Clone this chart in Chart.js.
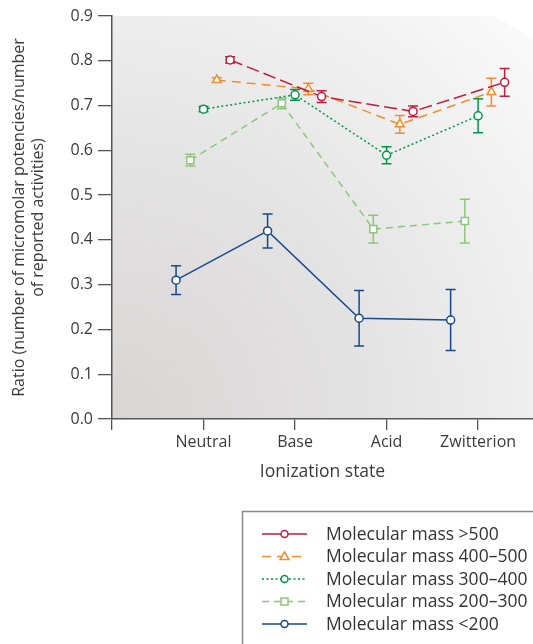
<!DOCTYPE html>
<html lang="en">
<head>
  <meta charset="UTF-8" />
  <title>Ratio by ionization state</title>
  <script src="https://cdn.jsdelivr.net/npm/chart.js"></script>
  <style>
    * { margin: 0; padding: 0; box-sizing: border-box; }
    body { background: #fff; width: 533px; height: 644px; overflow: hidden; }
    #wrap { position: relative; width: 533px; height: 644px; }
  </style>
</head>
<body>
  <div id="wrap"><canvas id="chart"></canvas></div>

  <script>
    const categories = ['Neutral', 'Base', 'Acid', 'Zwitterion'];
    const yTicks = [0, 0.1, 0.2, 0.3, 0.4, 0.5, 0.6, 0.7, 0.8, 0.9];

    const seriesNames = [
      'Molecular mass >500',
      'Molecular mass 400\u2013500',
      'Molecular mass 300\u2013400',
      'Molecular mass 200\u2013300',
      'Molecular mass <200'
    ];
    const mass500 = [0.802, 0.720, 0.687, 0.752];
    const err500 = [0.007, 0.013, 0.012, 0.031];
    const mass400 = [0.757, 0.737, 0.658, 0.730];
    const err400 = [0.005, 0.013, 0.020, 0.031];
    const mass300 = [0.692, 0.724, 0.589, 0.677];
    const err300 = [0.006, 0.012, 0.019, 0.038];
    const mass200 = [0.578, 0.705, 0.424, 0.442];
    const err200 = [0.013, 0.012, 0.031, 0.049];
    const massLow = [0.310, 0.420, 0.225, 0.221];
    const errLow = [0.032, 0.038, 0.062, 0.068];

    // horizontal dodge of each series inside a category
    const dodge = [0.29, 0.145, 0, -0.145, -0.3];
    const colors = ['#c41a3b', '#f08d2e', '#00954a', '#8cc67c', '#17498c'];
    const dashes = [[13, 5], [9, 6], [2, 2.5], [7, 5], []];
    const legendDashes = [[], [9, 6], [2, 2.5], [7, 5], []];
    const shapes = ['circle', 'triangle', 'circle', 'rect', 'circle'];
    const radii = [4, 5, 4, 5, 4];

    const values = [mass500, mass400, mass300, mass200, massLow];
    const errors = [err500, err400, err300, err200, errLow];

    const datasets = values.map((vals, s) => ({
      label: seriesNames[s],
      data: vals.map((v, i) => ({ x: i + 1 + dodge[s], y: v, err: errors[s][i] })),
      borderColor: colors[s],
      borderWidth: 1.5,
      borderDash: dashes[s],
      pointStyle: shapes[s],
      pointRadius: radii[s],
      pointBorderWidth: 1.5,
      pointBackgroundColor: '#fff',
      pointBorderColor: colors[s],
      fill: false,
      tension: 0
    }));

    const bgPlugin = {
      id: 'bg',
      beforeDraw(chart) {
        const { ctx, chartArea: a } = chart;
        const w = a.right - a.left, h = a.bottom - a.top;
        const r = Math.hypot(w, h);
        const g = ctx.createRadialGradient(a.left, a.bottom, 0, a.left, a.bottom, r);
        g.addColorStop(0, '#d8d5d4');
        g.addColorStop(0.45, '#e4e3e3');
        g.addColorStop(0.8, '#f2f2f2');
        g.addColorStop(1, '#fbfbfb');
        ctx.save();
        ctx.fillStyle = g;
        ctx.beginPath();
        ctx.moveTo(a.left, a.top);
        ctx.lineTo(a.right - 38, a.top);
        ctx.lineTo(a.right, a.top + 23);
        ctx.lineTo(a.right, a.bottom);
        ctx.lineTo(a.left, a.bottom);
        ctx.closePath();
        ctx.fill();
        ctx.restore();
      }
    };

    const errorBars = {
      id: 'errorBars',
      beforeDatasetsDraw(chart) {
        const { ctx } = chart;
        const y = chart.scales.y;
        chart.data.datasets.forEach((ds, s) => {
          const meta = chart.getDatasetMeta(s);
          ctx.save();
          ctx.strokeStyle = colors[s];
          ctx.lineWidth = 1.5;
          meta.data.forEach((pt, i) => {
            const d = ds.data[i];
            const top = y.getPixelForValue(d.y + d.err);
            const bot = y.getPixelForValue(d.y - d.err);
            ctx.beginPath();
            ctx.moveTo(pt.x, top); ctx.lineTo(pt.x, bot);
            ctx.moveTo(pt.x - 5, top); ctx.lineTo(pt.x + 5, top);
            ctx.moveTo(pt.x - 5, bot); ctx.lineTo(pt.x + 5, bot);
            ctx.stroke();
          });
          ctx.restore();
        });
      }
    };

    const boxLegend = {
      id: 'boxLegend',
      afterDraw(chart) {
        const { ctx } = chart;
        ctx.save();
        ctx.strokeStyle = '#8a8a8a';
        ctx.lineWidth = 1.5;
        ctx.strokeRect(242.5, 511.5, 400, 200);
        ctx.font = '17.5px "Open Sans"';
        ctx.textBaseline = 'middle';
        chart.data.datasets.forEach((ds, s) => {
          const yy = 534 + s * 22.5;
          ctx.strokeStyle = colors[s];
          ctx.lineWidth = 1.5;
          ctx.setLineDash(legendDashes[s]);
          ctx.beginPath();
          ctx.moveTo(262, yy); ctx.lineTo(307, yy);
          ctx.stroke();
          ctx.setLineDash([]);
          ctx.fillStyle = '#fff';
          ctx.beginPath();
          const r = radii[s] - 0.5;
          if (shapes[s] === 'circle') {
            ctx.arc(284.5, yy, r, 0, Math.PI * 2);
          } else if (shapes[s] === 'rect') {
            ctx.rect(284.5 - 3.5, yy - 3.5, 7, 7);
          } else {
            ctx.moveTo(284.5, yy - 4.5);
            ctx.lineTo(284.5 + 4.5, yy + 3);
            ctx.lineTo(284.5 - 4.5, yy + 3);
            ctx.closePath();
          }
          ctx.fill();
          ctx.stroke();
          ctx.fillStyle = '#333';
          ctx.fillText(ds.label, 326, yy + 1);
        });
        ctx.restore();
      }
    };

    new Chart(document.getElementById('chart'), {
      type: 'line',
      data: { datasets },
      options: {
        responsive: true,
        maintainAspectRatio: false,
        animation: false,
        layout: { autoPadding: false, padding: { top: 16, right: 0, bottom: 161, left: 0 } },
        plugins: { legend: { display: false }, tooltip: { enabled: false } },
        scales: {
          x: {
            type: 'linear',
            min: 0,
            max: 4.6,
            afterBuildTicks: s => { s.ticks = [0, 1, 2, 3, 4].map(v => ({ value: v })); },
            afterFit: s => { s.height = 64; s.paddingLeft = 0; s.paddingRight = 0; },
            grid: { drawOnChartArea: false, tickLength: 11, color: '#555', lineWidth: 1.3 },
            border: { color: '#555', width: 1.5 },
            ticks: {
              padding: 3,
              maxRotation: 0,
              autoSkip: false,
              color: '#3a3a3a',
              font: { family: 'Open Sans', size: 16 },
              callback: v => categories[v - 1] || ''
            },
            title: {
              display: true,
              text: 'Ionization state',
              color: '#3a3a3a',
              font: { family: 'Open Sans', size: 17.5 },
              padding: { top: 0, bottom: 0 }
            }
          },
          y: {
            min: 0,
            max: 0.9,
            afterBuildTicks: s => { s.ticks = yTicks.map(v => ({ value: v })); },
            afterFit: s => { s.width = 112; },
            grid: { drawOnChartArea: false, tickLength: 14, color: '#555', lineWidth: 1.3 },
            border: { color: '#555', width: 1.5 },
            ticks: {
              padding: 5,
              color: '#3a3a3a',
              font: { family: 'Open Sans', size: 16 },
              callback: v => v.toFixed(1)
            },
            title: {
              display: true,
              text: ['Ratio (number of micromolar potencies/number', 'of reported activities)'],
              color: '#3a3a3a',
              font: { family: 'Open Sans', size: 16 },
              padding: { top: 10, bottom: 0 }
            }
          }
        }
      },
      plugins: [bgPlugin, errorBars, boxLegend]
    });
  </script>
</body>
</html>
